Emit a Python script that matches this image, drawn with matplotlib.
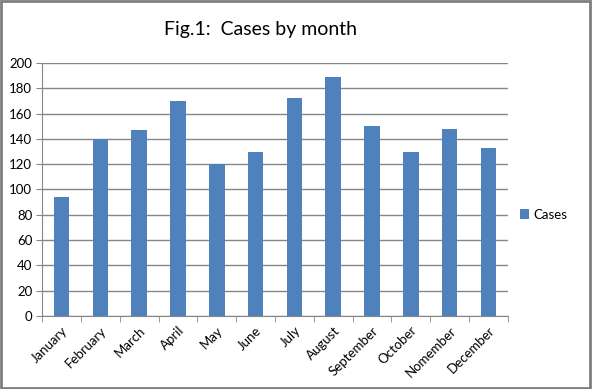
import numpy as np
import matplotlib.pyplot as plt
from matplotlib.patches import Rectangle

months = ['January', 'February', 'March', 'April', 'May', 'June', 'July',
          'August', 'September', 'October', 'Nomember', 'December']
cases = [94, 140, 147, 170, 120, 130, 172, 189, 150, 130, 148, 133]
yticks = [0, 20, 40, 60, 80, 100, 120, 140, 160, 180, 200]

plt.rcParams['font.family'] = ['Lato', 'DejaVu Sans']

fig = plt.figure(figsize=(5.92, 3.89), dpi=100)
ax = fig.add_axes([0.071, 0.188, 0.787, 0.650])

x = np.arange(len(months))
ax.bar(x, cases, width=0.4, color='#4F81BD', label='Cases', zorder=3)

ax.set_xlim(-0.5, len(months) - 0.5)
ax.set_ylim(0, 200)
ax.set_yticks(yticks)
ax.set_yticklabels([str(v) for v in yticks], fontsize=9.5)
ax.yaxis.grid(True, color='#868686', linewidth=1, zorder=0)
ax.set_xticks(x)
ax.set_xticklabels(months, rotation=45, ha='right', rotation_mode='anchor', fontsize=9.5)
ax.set_xticks(np.arange(-0.5, len(months)), minor=True)
ax.tick_params(axis='x', which='major', length=0, pad=6)
ax.tick_params(axis='x', which='minor', length=4, color='#868686')
ax.tick_params(axis='y', length=4, color='#868686', pad=3)

for s in ['top', 'right']:
    ax.spines[s].set_visible(False)
for s in ['left', 'bottom']:
    ax.spines[s].set_color('#868686')

fig.text(0.44, 0.925, 'Fig.1:  Cases by month', ha='center', va='center', fontsize=14)

ax.legend(loc='center left', bbox_to_anchor=(1.0, 0.4), frameon=False,
          fontsize=9.5, handlelength=0.7, handleheight=0.7, handletextpad=0.3)

fig.patches.append(Rectangle((0.002, 0.003), 0.995, 0.994, transform=fig.transFigure,
                             fill=False, edgecolor='#7f7f7f', linewidth=2))

fig.savefig('out.png', dpi=100)
